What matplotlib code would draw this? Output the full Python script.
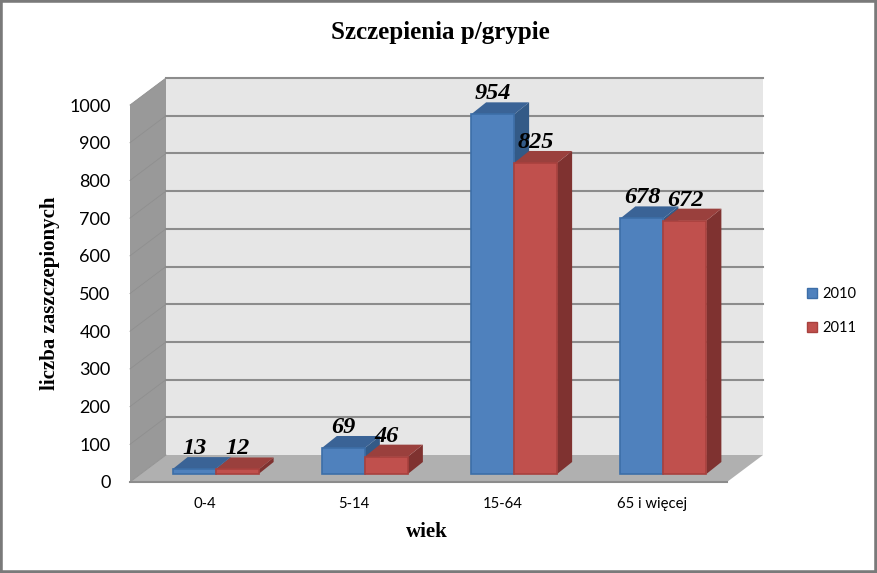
#!/usr/bin/env python
import matplotlib as mpl
mpl.use('Agg')
import matplotlib.pyplot as plt
from matplotlib.patches import Polygon, Rectangle

categories = ['0-4', '5-14', '15-64', '65 i więcej']
years = ['2010', '2011']
values_2010 = [13, 69, 954, 678]
values_2011 = [12, 46, 825, 672]
y_ticks = [0, 100, 200, 300, 400, 500, 600, 700, 800, 900, 1000]

W, H = 877, 573
# pixels per unit on the front plane
x_scale = 597 / 4.0
y_scale = 377 / 1000.0


def oblique(px, py):
    return px / x_scale, py / y_scale


fig = plt.figure(figsize=(W / 100.0, H / 100.0), dpi=100, facecolor='white')
ax = fig.add_axes([130.0 / W, 1 - 482.0 / H, 597.0 / W, 377.0 / H])
ax.set_xlim(-0.5, 3.5)
ax.set_ylim(0, 1000)
for s in ax.spines.values():
    s.set_visible(False)
ax.patch.set_visible(False)


def poly(pts, fc, ec='none', lw=0, z=1):
    ax.add_patch(Polygon(pts, closed=True, facecolor=fc, edgecolor=ec,
                         linewidth=lw, zorder=z, clip_on=False))


# walls and floor
wx, wy = oblique(36, 27)
ymax = y_ticks[-1]
poly([(-0.5 + wx, wy), (3.5 + wx, wy), (3.5 + wx, ymax + wy), (-0.5 + wx, ymax + wy)], '#e6e6e6')
poly([(-0.5, 0), (-0.5 + wx, wy), (-0.5 + wx, ymax + wy), (-0.5, ymax)], '#999999')
poly([(-0.5, 0), (3.5, 0), (3.5 + wx, wy), (-0.5 + wx, wy)], '#b0b0b0')
ax.plot([-0.5, 3.5], [0, 0], color='#8c8c8c', lw=1.5, zorder=1.5, clip_on=False)
for t in y_ticks[1:]:
    ax.plot([-0.5 + wx, 3.5 + wx], [t + wy, t + wy], color='#8c8c8c', lw=1.5, zorder=1.2, clip_on=False)
for t in y_ticks:
    ax.plot([-0.5, -0.5 + wx], [t, t + wy], color='#8f8f8f', lw=0.6, zorder=1.2, clip_on=False)

# bars
front_x, front_y = oblique(11, 8)
depth_x, depth_y = oblique(15, 12)
bar_w = 43 / x_scale
series = [(values_2010, -bar_w, '#4f81bd', '#3a6396', '#335a87', '#3c6ea8'),
          (values_2011, 0, '#c0504d', '#9a403d', '#7f3230', '#a8413e')]
for i, cat in enumerate(categories):
    for vals, off, front, top, side, edge in series:
        v = vals[i]
        x0 = i + off + front_x
        x1 = x0 + bar_w
        y0 = front_y
        y1 = front_y + v
        poly([(x1, y0), (x1 + depth_x, y0 + depth_y), (x1 + depth_x, y1 + depth_y), (x1, y1)], side, z=3)
        poly([(x0, y1), (x1, y1), (x1 + depth_x, y1 + depth_y), (x0 + depth_x, y1 + depth_y)], top, z=3)
        ax.add_patch(Rectangle((x0, y0), bar_w, v, facecolor=front, edgecolor=edge,
                               linewidth=1.2, zorder=4, clip_on=False))

# value labels
for i, cat in enumerate(categories):
    for vals, off in ((values_2010, -bar_w), (values_2011, 0)):
        v = vals[i]
        x = i + off + front_x + bar_w / 2
        y = front_y + v + depth_y + 3 / y_scale
        ax.text(x, y, str(v), ha='center', va='baseline', family='Liberation Serif',
                style='italic', weight='bold', fontsize=17.5, color='black',
                zorder=6, clip_on=False)

ax.set_yticks(y_ticks)
ax.set_xticks(range(len(categories)))
ax.set_xticklabels(categories, family='Lato', fontsize=10.7, color='black')
ax.set_yticklabels([str(t) for t in y_ticks], family='Lato', fontsize=13, color='black')
ax.tick_params(axis='x', length=0, pad=11)
ax.tick_params(axis='y', length=0, pad=14)

fig.text(440 / W, 1 - 33.0 / H, 'Szczepienia p/grypie', ha='center', va='center',
         family='Liberation Serif', weight='bold', fontsize=18)
fig.text(427 / W, 1 - 532.0 / H, 'wiek', ha='center', va='center',
         family='Liberation Serif', weight='bold', fontsize=15)
fig.text(50 / W, 1 - 293.0 / H, 'liczba zaszczepionych', ha='center', va='center',
         rotation=90, family='Liberation Serif', weight='bold', fontsize=15)

# legend
for name, color, edge, ly in zip(years, ['#4f81bd', '#c0504d'], ['#3c6ea8', '#a8413e'], [293, 327]):
    fig.patches.append(Rectangle((807.0 / W, 1 - (ly + 5.0) / H), 10.0 / W, 10.0 / H,
                                 transform=fig.transFigure, facecolor=color,
                                 edgecolor=edge, linewidth=1))
    fig.text(822.0 / W, 1 - (ly + 1) / H, name, ha='left', va='center', family='Lato', fontsize=10.5)

# outer frame
fig.patches.append(Rectangle((0, 0), 1, 1, transform=fig.transFigure, fill=False,
                             edgecolor='#7a7a7a', linewidth=4))

fig.savefig('out.png', dpi=100, facecolor='white')
